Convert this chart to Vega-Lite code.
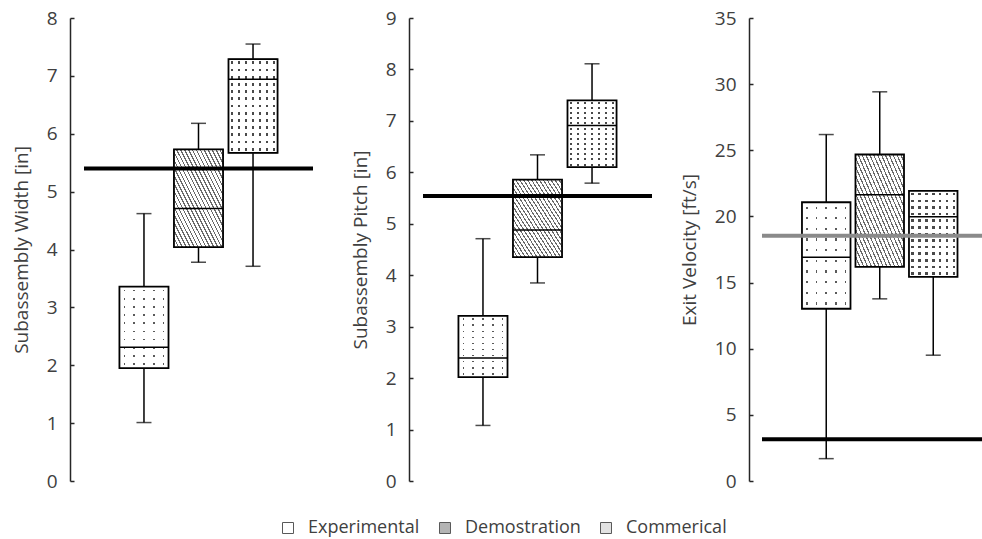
{
"$schema": "https://vega.github.io/schema/vega-lite/v6.json",
"padding": {"left": 12, "top": 9, "right": 0, "bottom": 0},
"background": "#ffffff",
"datasets": {
"boxes": [
{"panel":"W","cat":"Experimental","min":1.01,"q1":1.95,"med":2.31,"q3":3.36,"max":4.62},
{"panel":"W","cat":"Demostration","min":3.78,"q1":4.04,"med":4.71,"q3":5.73,"max":6.18},
{"panel":"W","cat":"Commerical","min":3.71,"q1":5.67,"med":6.94,"q3":7.29,"max":7.55},
{"panel":"P","cat":"Experimental","min":1.08,"q1":2.02,"med":2.39,"q3":3.21,"max":4.71},
{"panel":"P","cat":"Demostration","min":3.85,"q1":4.35,"med":4.88,"q3":5.86,"max":6.34},
{"panel":"P","cat":"Commerical","min":5.79,"q1":6.10,"med":6.91,"q3":7.40,"max":8.11},
{"panel":"V","cat":"Experimental","min":1.69,"q1":13.02,"med":16.91,"q3":21.07,"max":26.19},
{"panel":"V","cat":"Demostration","min":13.77,"q1":16.18,"med":21.63,"q3":24.68,"max":29.42},
{"panel":"V","cat":"Commerical","min":9.51,"q1":15.43,"med":19.97,"q3":21.93,"max":21.93}
],
"refs": [
{"panel":"W","kind":"limit","value":5.40},
{"panel":"P","kind":"limit","value":5.54},
{"panel":"V","kind":"avg","value":18.54},
{"panel":"V","kind":"limit","value":3.16}
]
},
"spacing": 110,
"bounds": "flush",
"hconcat": [
{
"width": 229, "height": 463,
"layer": [
{
"data": {"name": "boxes"},
"transform": [{"filter": "datum.panel === 'W'"}],
"encoding": {"x": {"field": "cat", "type": "nominal", "sort": ["Experimental","Demostration","Commerical"], "axis": null, "scale": {"paddingInner": 0.1, "paddingOuter": 0.65}}},
"layer": [
{"mark": {"type": "rule", "color": "#000000", "strokeWidth": 1.5},
 "encoding": {"y": {"field": "min", "type": "quantitative", "scale": {"domain": [0, 8], "nice": false}, "axis": {"title": "Subassembly Width [in]", "values": [0,1,2,3,4,5,6,7,8], "format": "d", "offset": 14}}, "y2": {"field": "max"}}},
{"mark": {"type": "tick", "color": "#000000", "size": 15, "thickness": 1.5}, "encoding": {"y": {"field": "min", "type": "quantitative"}}},
{"mark": {"type": "tick", "color": "#000000", "size": 15, "thickness": 1.5}, "encoding": {"y": {"field": "max", "type": "quantitative"}}},
{"mark": {"type": "bar", "strokeWidth": 1},
 "encoding": {"y": {"field": "q1", "type": "quantitative"}, "y2": {"field": "q3"},
  "fill": {"field": "cat", "type": "nominal", "scale": {"domain": ["Experimental","Demostration","Commerical"], "range": ["#ffffff","#b4b4b4","#e2e2e2"]},
   "legend": {"title": null, "orient": "none", "legendX": 195, "legendY": 501, "direction": "horizontal", "padding": 0,
    "symbolType": "square", "symbolSize": 121, "symbolStrokeWidth": 1,
    "labelFont": "Open Sans", "labelFontSize": 18, "labelColor": "#404040", "labelOffset": 11, "columnPadding": 16, "labelLimit": 300}},
  "stroke": {"field": "cat", "type": "nominal", "scale": {"domain": ["Experimental","Demostration","Commerical"], "range": ["#595959","#595959","#595959"]},
   "legend": {"title": null, "orient": "none", "legendX": 195, "legendY": 501, "direction": "horizontal", "padding": 0,
    "symbolType": "square", "symbolSize": 121, "symbolStrokeWidth": 1,
    "labelFont": "Open Sans", "labelFontSize": 18, "labelColor": "#404040", "labelOffset": 11, "columnPadding": 16, "labelLimit": 300}}}},
{"transform": [{"filter": "datum.cat === 'Demostration'"}],
 "mark": {"type": "bar", "fill": {"gradient":"linear","x1":0,"y1":1,"x2":1,"y2":0,"stops":[
{"offset":0,"color":"#6a6a6a"},{"offset":0.013,"color":"#6a6a6a"},{"offset":0.013,"color":"#ffffff"},{"offset":0.04,"color":"#ffffff"},
{"offset":0.04,"color":"#6a6a6a"},{"offset":0.053,"color":"#6a6a6a"},{"offset":0.053,"color":"#ffffff"},{"offset":0.08,"color":"#ffffff"},
{"offset":0.08,"color":"#6a6a6a"},{"offset":0.093,"color":"#6a6a6a"},{"offset":0.093,"color":"#ffffff"},{"offset":0.12,"color":"#ffffff"},
{"offset":0.12,"color":"#6a6a6a"},{"offset":0.133,"color":"#6a6a6a"},{"offset":0.133,"color":"#ffffff"},{"offset":0.16,"color":"#ffffff"},
{"offset":0.16,"color":"#6a6a6a"},{"offset":0.173,"color":"#6a6a6a"},{"offset":0.173,"color":"#ffffff"},{"offset":0.2,"color":"#ffffff"},
{"offset":0.2,"color":"#6a6a6a"},{"offset":0.213,"color":"#6a6a6a"},{"offset":0.213,"color":"#ffffff"},{"offset":0.24,"color":"#ffffff"},
{"offset":0.24,"color":"#6a6a6a"},{"offset":0.253,"color":"#6a6a6a"},{"offset":0.253,"color":"#ffffff"},{"offset":0.28,"color":"#ffffff"},
{"offset":0.28,"color":"#6a6a6a"},{"offset":0.293,"color":"#6a6a6a"},{"offset":0.293,"color":"#ffffff"},{"offset":0.32,"color":"#ffffff"},
{"offset":0.32,"color":"#6a6a6a"},{"offset":0.333,"color":"#6a6a6a"},{"offset":0.333,"color":"#ffffff"},{"offset":0.36,"color":"#ffffff"},
{"offset":0.36,"color":"#6a6a6a"},{"offset":0.373,"color":"#6a6a6a"},{"offset":0.373,"color":"#ffffff"},{"offset":0.4,"color":"#ffffff"},
{"offset":0.4,"color":"#6a6a6a"},{"offset":0.413,"color":"#6a6a6a"},{"offset":0.413,"color":"#ffffff"},{"offset":0.44,"color":"#ffffff"},
{"offset":0.44,"color":"#6a6a6a"},{"offset":0.453,"color":"#6a6a6a"},{"offset":0.453,"color":"#ffffff"},{"offset":0.48,"color":"#ffffff"},
{"offset":0.48,"color":"#6a6a6a"},{"offset":0.493,"color":"#6a6a6a"},{"offset":0.493,"color":"#ffffff"},{"offset":0.52,"color":"#ffffff"},
{"offset":0.52,"color":"#6a6a6a"},{"offset":0.533,"color":"#6a6a6a"},{"offset":0.533,"color":"#ffffff"},{"offset":0.56,"color":"#ffffff"},
{"offset":0.56,"color":"#6a6a6a"},{"offset":0.573,"color":"#6a6a6a"},{"offset":0.573,"color":"#ffffff"},{"offset":0.6,"color":"#ffffff"},
{"offset":0.6,"color":"#6a6a6a"},{"offset":0.613,"color":"#6a6a6a"},{"offset":0.613,"color":"#ffffff"},{"offset":0.64,"color":"#ffffff"},
{"offset":0.64,"color":"#6a6a6a"},{"offset":0.653,"color":"#6a6a6a"},{"offset":0.653,"color":"#ffffff"},{"offset":0.68,"color":"#ffffff"},
{"offset":0.68,"color":"#6a6a6a"},{"offset":0.693,"color":"#6a6a6a"},{"offset":0.693,"color":"#ffffff"},{"offset":0.72,"color":"#ffffff"},
{"offset":0.72,"color":"#6a6a6a"},{"offset":0.733,"color":"#6a6a6a"},{"offset":0.733,"color":"#ffffff"},{"offset":0.76,"color":"#ffffff"},
{"offset":0.76,"color":"#6a6a6a"},{"offset":0.773,"color":"#6a6a6a"},{"offset":0.773,"color":"#ffffff"},{"offset":0.8,"color":"#ffffff"},
{"offset":0.8,"color":"#6a6a6a"},{"offset":0.813,"color":"#6a6a6a"},{"offset":0.813,"color":"#ffffff"},{"offset":0.84,"color":"#ffffff"},
{"offset":0.84,"color":"#6a6a6a"},{"offset":0.853,"color":"#6a6a6a"},{"offset":0.853,"color":"#ffffff"},{"offset":0.88,"color":"#ffffff"},
{"offset":0.88,"color":"#6a6a6a"},{"offset":0.893,"color":"#6a6a6a"},{"offset":0.893,"color":"#ffffff"},{"offset":0.92,"color":"#ffffff"},
{"offset":0.92,"color":"#6a6a6a"},{"offset":0.933,"color":"#6a6a6a"},{"offset":0.933,"color":"#ffffff"},{"offset":0.96,"color":"#ffffff"},
{"offset":0.96,"color":"#6a6a6a"},{"offset":0.973,"color":"#6a6a6a"},{"offset":0.973,"color":"#ffffff"},{"offset":1,"color":"#ffffff"}]}},
 "encoding": {"y": {"field": "q1", "type": "quantitative"}, "y2": {"field": "q3"}}},
{"transform": [{"filter": "datum.cat === 'Experimental'"}],
 "mark": {"type": "bar", "fill": {"gradient":"linear","x1":0,"y1":0,"x2":0,"y2":1,"stops":[
{"offset":0,"color":"#ffffff"},
{"offset":0.04,"color":"#ffffff"},{"offset":0.04,"color":"#5a5a5a"},{"offset":0.06,"color":"#5a5a5a"},{"offset":0.06,"color":"#ffffff"},
{"offset":0.14,"color":"#ffffff"},{"offset":0.14,"color":"#5a5a5a"},{"offset":0.16,"color":"#5a5a5a"},{"offset":0.16,"color":"#ffffff"},
{"offset":0.24,"color":"#ffffff"},{"offset":0.24,"color":"#5a5a5a"},{"offset":0.26,"color":"#5a5a5a"},{"offset":0.26,"color":"#ffffff"},
{"offset":0.34,"color":"#ffffff"},{"offset":0.34,"color":"#5a5a5a"},{"offset":0.36,"color":"#5a5a5a"},{"offset":0.36,"color":"#ffffff"},
{"offset":0.44,"color":"#ffffff"},{"offset":0.44,"color":"#5a5a5a"},{"offset":0.46,"color":"#5a5a5a"},{"offset":0.46,"color":"#ffffff"},
{"offset":0.54,"color":"#ffffff"},{"offset":0.54,"color":"#5a5a5a"},{"offset":0.56,"color":"#5a5a5a"},{"offset":0.56,"color":"#ffffff"},
{"offset":0.64,"color":"#ffffff"},{"offset":0.64,"color":"#5a5a5a"},{"offset":0.66,"color":"#5a5a5a"},{"offset":0.66,"color":"#ffffff"},
{"offset":0.74,"color":"#ffffff"},{"offset":0.74,"color":"#5a5a5a"},{"offset":0.76,"color":"#5a5a5a"},{"offset":0.76,"color":"#ffffff"},
{"offset":0.84,"color":"#ffffff"},{"offset":0.84,"color":"#5a5a5a"},{"offset":0.86,"color":"#5a5a5a"},{"offset":0.86,"color":"#ffffff"},
{"offset":0.94,"color":"#ffffff"},{"offset":0.94,"color":"#5a5a5a"},{"offset":0.96,"color":"#5a5a5a"},{"offset":0.96,"color":"#ffffff"},
{"offset":1,"color":"#ffffff"}]}},
 "encoding": {"y": {"field": "q1", "type": "quantitative"}, "y2": {"field": "q3"}}},
{"transform": [{"filter": "datum.cat === 'Experimental'"}],
 "mark": {"type": "bar", "fill": {"gradient":"linear","x1":0,"y1":0,"x2":1,"y2":0,"stops":[
{"offset":0,"color":"#ffffff"},
{"offset":0.083,"color":"#ffffff"},{"offset":0.083,"color":"rgba(255,255,255,0)"},{"offset":0.117,"color":"rgba(255,255,255,0)"},{"offset":0.117,"color":"#ffffff"},
{"offset":0.283,"color":"#ffffff"},{"offset":0.283,"color":"rgba(255,255,255,0)"},{"offset":0.317,"color":"rgba(255,255,255,0)"},{"offset":0.317,"color":"#ffffff"},
{"offset":0.483,"color":"#ffffff"},{"offset":0.483,"color":"rgba(255,255,255,0)"},{"offset":0.517,"color":"rgba(255,255,255,0)"},{"offset":0.517,"color":"#ffffff"},
{"offset":0.683,"color":"#ffffff"},{"offset":0.683,"color":"rgba(255,255,255,0)"},{"offset":0.717,"color":"rgba(255,255,255,0)"},{"offset":0.717,"color":"#ffffff"},
{"offset":0.883,"color":"#ffffff"},{"offset":0.883,"color":"rgba(255,255,255,0)"},{"offset":0.917,"color":"rgba(255,255,255,0)"},{"offset":0.917,"color":"#ffffff"},
{"offset":1,"color":"#ffffff"}]}},
 "encoding": {"y": {"field": "q1", "type": "quantitative"}, "y2": {"field": "q3"}}},
{"transform": [{"filter": "datum.cat === 'Commerical'"}],
 "mark": {"type": "bar", "fill": {"gradient":"linear","x1":0,"y1":0,"x2":0,"y2":1,"stops":[
{"offset":0,"color":"#ffffff"},
{"offset":0.0235,"color":"#ffffff"},{"offset":0.0235,"color":"#4a4a4a"},{"offset":0.0535,"color":"#4a4a4a"},{"offset":0.0535,"color":"#ffffff"},
{"offset":0.1004,"color":"#ffffff"},{"offset":0.1004,"color":"#4a4a4a"},{"offset":0.1304,"color":"#4a4a4a"},{"offset":0.1304,"color":"#ffffff"},
{"offset":0.1773,"color":"#ffffff"},{"offset":0.1773,"color":"#4a4a4a"},{"offset":0.2073,"color":"#4a4a4a"},{"offset":0.2073,"color":"#ffffff"},
{"offset":0.2542,"color":"#ffffff"},{"offset":0.2542,"color":"#4a4a4a"},{"offset":0.2842,"color":"#4a4a4a"},{"offset":0.2842,"color":"#ffffff"},
{"offset":0.3312,"color":"#ffffff"},{"offset":0.3312,"color":"#4a4a4a"},{"offset":0.3612,"color":"#4a4a4a"},{"offset":0.3612,"color":"#ffffff"},
{"offset":0.4081,"color":"#ffffff"},{"offset":0.4081,"color":"#4a4a4a"},{"offset":0.4381,"color":"#4a4a4a"},{"offset":0.4381,"color":"#ffffff"},
{"offset":0.485,"color":"#ffffff"},{"offset":0.485,"color":"#4a4a4a"},{"offset":0.515,"color":"#4a4a4a"},{"offset":0.515,"color":"#ffffff"},
{"offset":0.5619,"color":"#ffffff"},{"offset":0.5619,"color":"#4a4a4a"},{"offset":0.5919,"color":"#4a4a4a"},{"offset":0.5919,"color":"#ffffff"},
{"offset":0.6388,"color":"#ffffff"},{"offset":0.6388,"color":"#4a4a4a"},{"offset":0.6688,"color":"#4a4a4a"},{"offset":0.6688,"color":"#ffffff"},
{"offset":0.7158,"color":"#ffffff"},{"offset":0.7158,"color":"#4a4a4a"},{"offset":0.7458,"color":"#4a4a4a"},{"offset":0.7458,"color":"#ffffff"},
{"offset":0.7927,"color":"#ffffff"},{"offset":0.7927,"color":"#4a4a4a"},{"offset":0.8227,"color":"#4a4a4a"},{"offset":0.8227,"color":"#ffffff"},
{"offset":0.8696,"color":"#ffffff"},{"offset":0.8696,"color":"#4a4a4a"},{"offset":0.8996,"color":"#4a4a4a"},{"offset":0.8996,"color":"#ffffff"},
{"offset":0.9465,"color":"#ffffff"},{"offset":0.9465,"color":"#4a4a4a"},{"offset":0.9765,"color":"#4a4a4a"},{"offset":0.9765,"color":"#ffffff"},
{"offset":1,"color":"#ffffff"}]}},
 "encoding": {"y": {"field": "q1", "type": "quantitative"}, "y2": {"field": "q3"}}},
{"transform": [{"filter": "datum.cat === 'Commerical'"}],
 "mark": {"type": "bar", "fill": {"gradient":"linear","x1":0,"y1":0,"x2":1,"y2":0,"stops":[
{"offset":0,"color":"#ffffff"},
{"offset":0.0444,"color":"#ffffff"},{"offset":0.0444,"color":"rgba(255,255,255,0)"},{"offset":0.0984,"color":"rgba(255,255,255,0)"},{"offset":0.0984,"color":"#ffffff"},
{"offset":0.1873,"color":"#ffffff"},{"offset":0.1873,"color":"rgba(255,255,255,0)"},{"offset":0.2413,"color":"rgba(255,255,255,0)"},{"offset":0.2413,"color":"#ffffff"},
{"offset":0.3301,"color":"#ffffff"},{"offset":0.3301,"color":"rgba(255,255,255,0)"},{"offset":0.3841,"color":"rgba(255,255,255,0)"},{"offset":0.3841,"color":"#ffffff"},
{"offset":0.473,"color":"#ffffff"},{"offset":0.473,"color":"rgba(255,255,255,0)"},{"offset":0.527,"color":"rgba(255,255,255,0)"},{"offset":0.527,"color":"#ffffff"},
{"offset":0.6159,"color":"#ffffff"},{"offset":0.6159,"color":"rgba(255,255,255,0)"},{"offset":0.6699,"color":"rgba(255,255,255,0)"},{"offset":0.6699,"color":"#ffffff"},
{"offset":0.7587,"color":"#ffffff"},{"offset":0.7587,"color":"rgba(255,255,255,0)"},{"offset":0.8127,"color":"rgba(255,255,255,0)"},{"offset":0.8127,"color":"#ffffff"},
{"offset":0.9016,"color":"#ffffff"},{"offset":0.9016,"color":"rgba(255,255,255,0)"},{"offset":0.9556,"color":"rgba(255,255,255,0)"},{"offset":0.9556,"color":"#ffffff"},
{"offset":1,"color":"#ffffff"}]}},
 "encoding": {"y": {"field": "q1", "type": "quantitative"}, "y2": {"field": "q3"}}},
{"mark": {"type": "bar", "fillOpacity": 0, "stroke": "#000000", "strokeWidth": 1.8},
 "encoding": {"y": {"field": "q1", "type": "quantitative"}, "y2": {"field": "q3"}}},
{"mark": {"type": "bar", "fillOpacity": 0, "stroke": "#000000", "strokeWidth": 1.5},
 "encoding": {"y": {"field": "med", "type": "quantitative"}, "y2": {"field": "med"}}}
]
},
{
"data": {"name": "refs"},
"transform": [{"filter": "datum.panel === 'W'"}],
"mark": {"type": "rule", "strokeWidth": 4},
"encoding": {"y": {"field": "value", "type": "quantitative"}, "color": {"condition": {"test": "datum.kind === 'avg'", "value": "#8a8a8a"}, "value": "#000000"}}
}
]
},
{
"width": 229, "height": 463,
"layer": [
{
"data": {"name": "boxes"},
"transform": [{"filter": "datum.panel === 'P'"}],
"encoding": {"x": {"field": "cat", "type": "nominal", "sort": ["Experimental","Demostration","Commerical"], "axis": null, "scale": {"paddingInner": 0.1, "paddingOuter": 0.65}}},
"layer": [
{"mark": {"type": "rule", "color": "#000000", "strokeWidth": 1.5},
 "encoding": {"y": {"field": "min", "type": "quantitative", "scale": {"domain": [0, 9], "nice": false}, "axis": {"title": "Subassembly Pitch [in]", "values": [0,1,2,3,4,5,6,7,8,9], "format": "d", "offset": 14}}, "y2": {"field": "max"}}},
{"mark": {"type": "tick", "color": "#000000", "size": 15, "thickness": 1.5}, "encoding": {"y": {"field": "min", "type": "quantitative"}}},
{"mark": {"type": "tick", "color": "#000000", "size": 15, "thickness": 1.5}, "encoding": {"y": {"field": "max", "type": "quantitative"}}},
{"transform": [{"filter": "datum.cat === 'Demostration'"}],
 "mark": {"type": "bar", "fill": {"gradient":"linear","x1":0,"y1":1,"x2":1,"y2":0,"stops":[
{"offset":0,"color":"#6a6a6a"},{"offset":0.013,"color":"#6a6a6a"},{"offset":0.013,"color":"#ffffff"},{"offset":0.04,"color":"#ffffff"},
{"offset":0.04,"color":"#6a6a6a"},{"offset":0.053,"color":"#6a6a6a"},{"offset":0.053,"color":"#ffffff"},{"offset":0.08,"color":"#ffffff"},
{"offset":0.08,"color":"#6a6a6a"},{"offset":0.093,"color":"#6a6a6a"},{"offset":0.093,"color":"#ffffff"},{"offset":0.12,"color":"#ffffff"},
{"offset":0.12,"color":"#6a6a6a"},{"offset":0.133,"color":"#6a6a6a"},{"offset":0.133,"color":"#ffffff"},{"offset":0.16,"color":"#ffffff"},
{"offset":0.16,"color":"#6a6a6a"},{"offset":0.173,"color":"#6a6a6a"},{"offset":0.173,"color":"#ffffff"},{"offset":0.2,"color":"#ffffff"},
{"offset":0.2,"color":"#6a6a6a"},{"offset":0.213,"color":"#6a6a6a"},{"offset":0.213,"color":"#ffffff"},{"offset":0.24,"color":"#ffffff"},
{"offset":0.24,"color":"#6a6a6a"},{"offset":0.253,"color":"#6a6a6a"},{"offset":0.253,"color":"#ffffff"},{"offset":0.28,"color":"#ffffff"},
{"offset":0.28,"color":"#6a6a6a"},{"offset":0.293,"color":"#6a6a6a"},{"offset":0.293,"color":"#ffffff"},{"offset":0.32,"color":"#ffffff"},
{"offset":0.32,"color":"#6a6a6a"},{"offset":0.333,"color":"#6a6a6a"},{"offset":0.333,"color":"#ffffff"},{"offset":0.36,"color":"#ffffff"},
{"offset":0.36,"color":"#6a6a6a"},{"offset":0.373,"color":"#6a6a6a"},{"offset":0.373,"color":"#ffffff"},{"offset":0.4,"color":"#ffffff"},
{"offset":0.4,"color":"#6a6a6a"},{"offset":0.413,"color":"#6a6a6a"},{"offset":0.413,"color":"#ffffff"},{"offset":0.44,"color":"#ffffff"},
{"offset":0.44,"color":"#6a6a6a"},{"offset":0.453,"color":"#6a6a6a"},{"offset":0.453,"color":"#ffffff"},{"offset":0.48,"color":"#ffffff"},
{"offset":0.48,"color":"#6a6a6a"},{"offset":0.493,"color":"#6a6a6a"},{"offset":0.493,"color":"#ffffff"},{"offset":0.52,"color":"#ffffff"},
{"offset":0.52,"color":"#6a6a6a"},{"offset":0.533,"color":"#6a6a6a"},{"offset":0.533,"color":"#ffffff"},{"offset":0.56,"color":"#ffffff"},
{"offset":0.56,"color":"#6a6a6a"},{"offset":0.573,"color":"#6a6a6a"},{"offset":0.573,"color":"#ffffff"},{"offset":0.6,"color":"#ffffff"},
{"offset":0.6,"color":"#6a6a6a"},{"offset":0.613,"color":"#6a6a6a"},{"offset":0.613,"color":"#ffffff"},{"offset":0.64,"color":"#ffffff"},
{"offset":0.64,"color":"#6a6a6a"},{"offset":0.653,"color":"#6a6a6a"},{"offset":0.653,"color":"#ffffff"},{"offset":0.68,"color":"#ffffff"},
{"offset":0.68,"color":"#6a6a6a"},{"offset":0.693,"color":"#6a6a6a"},{"offset":0.693,"color":"#ffffff"},{"offset":0.72,"color":"#ffffff"},
{"offset":0.72,"color":"#6a6a6a"},{"offset":0.733,"color":"#6a6a6a"},{"offset":0.733,"color":"#ffffff"},{"offset":0.76,"color":"#ffffff"},
{"offset":0.76,"color":"#6a6a6a"},{"offset":0.773,"color":"#6a6a6a"},{"offset":0.773,"color":"#ffffff"},{"offset":0.8,"color":"#ffffff"},
{"offset":0.8,"color":"#6a6a6a"},{"offset":0.813,"color":"#6a6a6a"},{"offset":0.813,"color":"#ffffff"},{"offset":0.84,"color":"#ffffff"},
{"offset":0.84,"color":"#6a6a6a"},{"offset":0.853,"color":"#6a6a6a"},{"offset":0.853,"color":"#ffffff"},{"offset":0.88,"color":"#ffffff"},
{"offset":0.88,"color":"#6a6a6a"},{"offset":0.893,"color":"#6a6a6a"},{"offset":0.893,"color":"#ffffff"},{"offset":0.92,"color":"#ffffff"},
{"offset":0.92,"color":"#6a6a6a"},{"offset":0.933,"color":"#6a6a6a"},{"offset":0.933,"color":"#ffffff"},{"offset":0.96,"color":"#ffffff"},
{"offset":0.96,"color":"#6a6a6a"},{"offset":0.973,"color":"#6a6a6a"},{"offset":0.973,"color":"#ffffff"},{"offset":1,"color":"#ffffff"}]}},
 "encoding": {"y": {"field": "q1", "type": "quantitative"}, "y2": {"field": "q3"}}},
{"transform": [{"filter": "datum.cat === 'Experimental'"}],
 "mark": {"type": "bar", "fill": {"gradient":"linear","x1":0,"y1":0,"x2":0,"y2":1,"stops":[
{"offset":0,"color":"#ffffff"},
{"offset":0.04,"color":"#ffffff"},{"offset":0.04,"color":"#5a5a5a"},{"offset":0.06,"color":"#5a5a5a"},{"offset":0.06,"color":"#ffffff"},
{"offset":0.14,"color":"#ffffff"},{"offset":0.14,"color":"#5a5a5a"},{"offset":0.16,"color":"#5a5a5a"},{"offset":0.16,"color":"#ffffff"},
{"offset":0.24,"color":"#ffffff"},{"offset":0.24,"color":"#5a5a5a"},{"offset":0.26,"color":"#5a5a5a"},{"offset":0.26,"color":"#ffffff"},
{"offset":0.34,"color":"#ffffff"},{"offset":0.34,"color":"#5a5a5a"},{"offset":0.36,"color":"#5a5a5a"},{"offset":0.36,"color":"#ffffff"},
{"offset":0.44,"color":"#ffffff"},{"offset":0.44,"color":"#5a5a5a"},{"offset":0.46,"color":"#5a5a5a"},{"offset":0.46,"color":"#ffffff"},
{"offset":0.54,"color":"#ffffff"},{"offset":0.54,"color":"#5a5a5a"},{"offset":0.56,"color":"#5a5a5a"},{"offset":0.56,"color":"#ffffff"},
{"offset":0.64,"color":"#ffffff"},{"offset":0.64,"color":"#5a5a5a"},{"offset":0.66,"color":"#5a5a5a"},{"offset":0.66,"color":"#ffffff"},
{"offset":0.74,"color":"#ffffff"},{"offset":0.74,"color":"#5a5a5a"},{"offset":0.76,"color":"#5a5a5a"},{"offset":0.76,"color":"#ffffff"},
{"offset":0.84,"color":"#ffffff"},{"offset":0.84,"color":"#5a5a5a"},{"offset":0.86,"color":"#5a5a5a"},{"offset":0.86,"color":"#ffffff"},
{"offset":0.94,"color":"#ffffff"},{"offset":0.94,"color":"#5a5a5a"},{"offset":0.96,"color":"#5a5a5a"},{"offset":0.96,"color":"#ffffff"},
{"offset":1,"color":"#ffffff"}]}},
 "encoding": {"y": {"field": "q1", "type": "quantitative"}, "y2": {"field": "q3"}}},
{"transform": [{"filter": "datum.cat === 'Experimental'"}],
 "mark": {"type": "bar", "fill": {"gradient":"linear","x1":0,"y1":0,"x2":1,"y2":0,"stops":[
{"offset":0,"color":"#ffffff"},
{"offset":0.083,"color":"#ffffff"},{"offset":0.083,"color":"rgba(255,255,255,0)"},{"offset":0.117,"color":"rgba(255,255,255,0)"},{"offset":0.117,"color":"#ffffff"},
{"offset":0.283,"color":"#ffffff"},{"offset":0.283,"color":"rgba(255,255,255,0)"},{"offset":0.317,"color":"rgba(255,255,255,0)"},{"offset":0.317,"color":"#ffffff"},
{"offset":0.483,"color":"#ffffff"},{"offset":0.483,"color":"rgba(255,255,255,0)"},{"offset":0.517,"color":"rgba(255,255,255,0)"},{"offset":0.517,"color":"#ffffff"},
{"offset":0.683,"color":"#ffffff"},{"offset":0.683,"color":"rgba(255,255,255,0)"},{"offset":0.717,"color":"rgba(255,255,255,0)"},{"offset":0.717,"color":"#ffffff"},
{"offset":0.883,"color":"#ffffff"},{"offset":0.883,"color":"rgba(255,255,255,0)"},{"offset":0.917,"color":"rgba(255,255,255,0)"},{"offset":0.917,"color":"#ffffff"},
{"offset":1,"color":"#ffffff"}]}},
 "encoding": {"y": {"field": "q1", "type": "quantitative"}, "y2": {"field": "q3"}}},
{"transform": [{"filter": "datum.cat === 'Commerical'"}],
 "mark": {"type": "bar", "fill": {"gradient":"linear","x1":0,"y1":0,"x2":0,"y2":1,"stops":[
{"offset":0,"color":"#ffffff"},
{"offset":0.0235,"color":"#ffffff"},{"offset":0.0235,"color":"#4a4a4a"},{"offset":0.0535,"color":"#4a4a4a"},{"offset":0.0535,"color":"#ffffff"},
{"offset":0.1004,"color":"#ffffff"},{"offset":0.1004,"color":"#4a4a4a"},{"offset":0.1304,"color":"#4a4a4a"},{"offset":0.1304,"color":"#ffffff"},
{"offset":0.1773,"color":"#ffffff"},{"offset":0.1773,"color":"#4a4a4a"},{"offset":0.2073,"color":"#4a4a4a"},{"offset":0.2073,"color":"#ffffff"},
{"offset":0.2542,"color":"#ffffff"},{"offset":0.2542,"color":"#4a4a4a"},{"offset":0.2842,"color":"#4a4a4a"},{"offset":0.2842,"color":"#ffffff"},
{"offset":0.3312,"color":"#ffffff"},{"offset":0.3312,"color":"#4a4a4a"},{"offset":0.3612,"color":"#4a4a4a"},{"offset":0.3612,"color":"#ffffff"},
{"offset":0.4081,"color":"#ffffff"},{"offset":0.4081,"color":"#4a4a4a"},{"offset":0.4381,"color":"#4a4a4a"},{"offset":0.4381,"color":"#ffffff"},
{"offset":0.485,"color":"#ffffff"},{"offset":0.485,"color":"#4a4a4a"},{"offset":0.515,"color":"#4a4a4a"},{"offset":0.515,"color":"#ffffff"},
{"offset":0.5619,"color":"#ffffff"},{"offset":0.5619,"color":"#4a4a4a"},{"offset":0.5919,"color":"#4a4a4a"},{"offset":0.5919,"color":"#ffffff"},
{"offset":0.6388,"color":"#ffffff"},{"offset":0.6388,"color":"#4a4a4a"},{"offset":0.6688,"color":"#4a4a4a"},{"offset":0.6688,"color":"#ffffff"},
{"offset":0.7158,"color":"#ffffff"},{"offset":0.7158,"color":"#4a4a4a"},{"offset":0.7458,"color":"#4a4a4a"},{"offset":0.7458,"color":"#ffffff"},
{"offset":0.7927,"color":"#ffffff"},{"offset":0.7927,"color":"#4a4a4a"},{"offset":0.8227,"color":"#4a4a4a"},{"offset":0.8227,"color":"#ffffff"},
{"offset":0.8696,"color":"#ffffff"},{"offset":0.8696,"color":"#4a4a4a"},{"offset":0.8996,"color":"#4a4a4a"},{"offset":0.8996,"color":"#ffffff"},
{"offset":0.9465,"color":"#ffffff"},{"offset":0.9465,"color":"#4a4a4a"},{"offset":0.9765,"color":"#4a4a4a"},{"offset":0.9765,"color":"#ffffff"},
{"offset":1,"color":"#ffffff"}]}},
 "encoding": {"y": {"field": "q1", "type": "quantitative"}, "y2": {"field": "q3"}}},
{"transform": [{"filter": "datum.cat === 'Commerical'"}],
 "mark": {"type": "bar", "fill": {"gradient":"linear","x1":0,"y1":0,"x2":1,"y2":0,"stops":[
{"offset":0,"color":"#ffffff"},
{"offset":0.0444,"color":"#ffffff"},{"offset":0.0444,"color":"rgba(255,255,255,0)"},{"offset":0.0984,"color":"rgba(255,255,255,0)"},{"offset":0.0984,"color":"#ffffff"},
{"offset":0.1873,"color":"#ffffff"},{"offset":0.1873,"color":"rgba(255,255,255,0)"},{"offset":0.2413,"color":"rgba(255,255,255,0)"},{"offset":0.2413,"color":"#ffffff"},
{"offset":0.3301,"color":"#ffffff"},{"offset":0.3301,"color":"rgba(255,255,255,0)"},{"offset":0.3841,"color":"rgba(255,255,255,0)"},{"offset":0.3841,"color":"#ffffff"},
{"offset":0.473,"color":"#ffffff"},{"offset":0.473,"color":"rgba(255,255,255,0)"},{"offset":0.527,"color":"rgba(255,255,255,0)"},{"offset":0.527,"color":"#ffffff"},
{"offset":0.6159,"color":"#ffffff"},{"offset":0.6159,"color":"rgba(255,255,255,0)"},{"offset":0.6699,"color":"rgba(255,255,255,0)"},{"offset":0.6699,"color":"#ffffff"},
{"offset":0.7587,"color":"#ffffff"},{"offset":0.7587,"color":"rgba(255,255,255,0)"},{"offset":0.8127,"color":"rgba(255,255,255,0)"},{"offset":0.8127,"color":"#ffffff"},
{"offset":0.9016,"color":"#ffffff"},{"offset":0.9016,"color":"rgba(255,255,255,0)"},{"offset":0.9556,"color":"rgba(255,255,255,0)"},{"offset":0.9556,"color":"#ffffff"},
{"offset":1,"color":"#ffffff"}]}},
 "encoding": {"y": {"field": "q1", "type": "quantitative"}, "y2": {"field": "q3"}}},
{"mark": {"type": "bar", "fillOpacity": 0, "stroke": "#000000", "strokeWidth": 1.8},
 "encoding": {"y": {"field": "q1", "type": "quantitative"}, "y2": {"field": "q3"}}},
{"mark": {"type": "bar", "fillOpacity": 0, "stroke": "#000000", "strokeWidth": 1.5},
 "encoding": {"y": {"field": "med", "type": "quantitative"}, "y2": {"field": "med"}}}
]
},
{
"data": {"name": "refs"},
"transform": [{"filter": "datum.panel === 'P'"}],
"mark": {"type": "rule", "strokeWidth": 4},
"encoding": {"y": {"field": "value", "type": "quantitative"}, "color": {"condition": {"test": "datum.kind === 'avg'", "value": "#8a8a8a"}, "value": "#000000"}}
}
]
},
{
"width": 220, "height": 463,
"layer": [
{
"data": {"name": "boxes"},
"transform": [{"filter": "datum.panel === 'V'"}],
"encoding": {"x": {"field": "cat", "type": "nominal", "sort": ["Experimental","Demostration","Commerical"], "axis": null, "scale": {"paddingInner": 0.093, "paddingOuter": 0.6025, "align": 0.62}}},
"layer": [
{"mark": {"type": "rule", "color": "#000000", "strokeWidth": 1.5},
 "encoding": {"y": {"field": "min", "type": "quantitative", "scale": {"domain": [0, 35], "nice": false}, "axis": {"title": "Exit Velocity [ft/s]", "values": [0,5,10,15,20,25,30,35], "format": "d", "offset": 13}}, "y2": {"field": "max"}}},
{"mark": {"type": "tick", "color": "#000000", "size": 15, "thickness": 1.5}, "encoding": {"y": {"field": "min", "type": "quantitative"}}},
{"mark": {"type": "tick", "color": "#000000", "size": 15, "thickness": 1.5}, "encoding": {"y": {"field": "max", "type": "quantitative"}}},
{"transform": [{"filter": "datum.cat === 'Demostration'"}],
 "mark": {"type": "bar", "fill": {"gradient":"linear","x1":0,"y1":1,"x2":1,"y2":0,"stops":[
{"offset":0,"color":"#6a6a6a"},{"offset":0.013,"color":"#6a6a6a"},{"offset":0.013,"color":"#ffffff"},{"offset":0.04,"color":"#ffffff"},
{"offset":0.04,"color":"#6a6a6a"},{"offset":0.053,"color":"#6a6a6a"},{"offset":0.053,"color":"#ffffff"},{"offset":0.08,"color":"#ffffff"},
{"offset":0.08,"color":"#6a6a6a"},{"offset":0.093,"color":"#6a6a6a"},{"offset":0.093,"color":"#ffffff"},{"offset":0.12,"color":"#ffffff"},
{"offset":0.12,"color":"#6a6a6a"},{"offset":0.133,"color":"#6a6a6a"},{"offset":0.133,"color":"#ffffff"},{"offset":0.16,"color":"#ffffff"},
{"offset":0.16,"color":"#6a6a6a"},{"offset":0.173,"color":"#6a6a6a"},{"offset":0.173,"color":"#ffffff"},{"offset":0.2,"color":"#ffffff"},
{"offset":0.2,"color":"#6a6a6a"},{"offset":0.213,"color":"#6a6a6a"},{"offset":0.213,"color":"#ffffff"},{"offset":0.24,"color":"#ffffff"},
{"offset":0.24,"color":"#6a6a6a"},{"offset":0.253,"color":"#6a6a6a"},{"offset":0.253,"color":"#ffffff"},{"offset":0.28,"color":"#ffffff"},
{"offset":0.28,"color":"#6a6a6a"},{"offset":0.293,"color":"#6a6a6a"},{"offset":0.293,"color":"#ffffff"},{"offset":0.32,"color":"#ffffff"},
{"offset":0.32,"color":"#6a6a6a"},{"offset":0.333,"color":"#6a6a6a"},{"offset":0.333,"color":"#ffffff"},{"offset":0.36,"color":"#ffffff"},
{"offset":0.36,"color":"#6a6a6a"},{"offset":0.373,"color":"#6a6a6a"},{"offset":0.373,"color":"#ffffff"},{"offset":0.4,"color":"#ffffff"},
{"offset":0.4,"color":"#6a6a6a"},{"offset":0.413,"color":"#6a6a6a"},{"offset":0.413,"color":"#ffffff"},{"offset":0.44,"color":"#ffffff"},
{"offset":0.44,"color":"#6a6a6a"},{"offset":0.453,"color":"#6a6a6a"},{"offset":0.453,"color":"#ffffff"},{"offset":0.48,"color":"#ffffff"},
{"offset":0.48,"color":"#6a6a6a"},{"offset":0.493,"color":"#6a6a6a"},{"offset":0.493,"color":"#ffffff"},{"offset":0.52,"color":"#ffffff"},
{"offset":0.52,"color":"#6a6a6a"},{"offset":0.533,"color":"#6a6a6a"},{"offset":0.533,"color":"#ffffff"},{"offset":0.56,"color":"#ffffff"},
{"offset":0.56,"color":"#6a6a6a"},{"offset":0.573,"color":"#6a6a6a"},{"offset":0.573,"color":"#ffffff"},{"offset":0.6,"color":"#ffffff"},
{"offset":0.6,"color":"#6a6a6a"},{"offset":0.613,"color":"#6a6a6a"},{"offset":0.613,"color":"#ffffff"},{"offset":0.64,"color":"#ffffff"},
{"offset":0.64,"color":"#6a6a6a"},{"offset":0.653,"color":"#6a6a6a"},{"offset":0.653,"color":"#ffffff"},{"offset":0.68,"color":"#ffffff"},
{"offset":0.68,"color":"#6a6a6a"},{"offset":0.693,"color":"#6a6a6a"},{"offset":0.693,"color":"#ffffff"},{"offset":0.72,"color":"#ffffff"},
{"offset":0.72,"color":"#6a6a6a"},{"offset":0.733,"color":"#6a6a6a"},{"offset":0.733,"color":"#ffffff"},{"offset":0.76,"color":"#ffffff"},
{"offset":0.76,"color":"#6a6a6a"},{"offset":0.773,"color":"#6a6a6a"},{"offset":0.773,"color":"#ffffff"},{"offset":0.8,"color":"#ffffff"},
{"offset":0.8,"color":"#6a6a6a"},{"offset":0.813,"color":"#6a6a6a"},{"offset":0.813,"color":"#ffffff"},{"offset":0.84,"color":"#ffffff"},
{"offset":0.84,"color":"#6a6a6a"},{"offset":0.853,"color":"#6a6a6a"},{"offset":0.853,"color":"#ffffff"},{"offset":0.88,"color":"#ffffff"},
{"offset":0.88,"color":"#6a6a6a"},{"offset":0.893,"color":"#6a6a6a"},{"offset":0.893,"color":"#ffffff"},{"offset":0.92,"color":"#ffffff"},
{"offset":0.92,"color":"#6a6a6a"},{"offset":0.933,"color":"#6a6a6a"},{"offset":0.933,"color":"#ffffff"},{"offset":0.96,"color":"#ffffff"},
{"offset":0.96,"color":"#6a6a6a"},{"offset":0.973,"color":"#6a6a6a"},{"offset":0.973,"color":"#ffffff"},{"offset":1,"color":"#ffffff"}]}},
 "encoding": {"y": {"field": "q1", "type": "quantitative"}, "y2": {"field": "q3"}}},
{"transform": [{"filter": "datum.cat === 'Experimental'"}],
 "mark": {"type": "bar", "fill": {"gradient":"linear","x1":0,"y1":0,"x2":0,"y2":1,"stops":[
{"offset":0,"color":"#ffffff"},
{"offset":0.04,"color":"#ffffff"},{"offset":0.04,"color":"#5a5a5a"},{"offset":0.06,"color":"#5a5a5a"},{"offset":0.06,"color":"#ffffff"},
{"offset":0.14,"color":"#ffffff"},{"offset":0.14,"color":"#5a5a5a"},{"offset":0.16,"color":"#5a5a5a"},{"offset":0.16,"color":"#ffffff"},
{"offset":0.24,"color":"#ffffff"},{"offset":0.24,"color":"#5a5a5a"},{"offset":0.26,"color":"#5a5a5a"},{"offset":0.26,"color":"#ffffff"},
{"offset":0.34,"color":"#ffffff"},{"offset":0.34,"color":"#5a5a5a"},{"offset":0.36,"color":"#5a5a5a"},{"offset":0.36,"color":"#ffffff"},
{"offset":0.44,"color":"#ffffff"},{"offset":0.44,"color":"#5a5a5a"},{"offset":0.46,"color":"#5a5a5a"},{"offset":0.46,"color":"#ffffff"},
{"offset":0.54,"color":"#ffffff"},{"offset":0.54,"color":"#5a5a5a"},{"offset":0.56,"color":"#5a5a5a"},{"offset":0.56,"color":"#ffffff"},
{"offset":0.64,"color":"#ffffff"},{"offset":0.64,"color":"#5a5a5a"},{"offset":0.66,"color":"#5a5a5a"},{"offset":0.66,"color":"#ffffff"},
{"offset":0.74,"color":"#ffffff"},{"offset":0.74,"color":"#5a5a5a"},{"offset":0.76,"color":"#5a5a5a"},{"offset":0.76,"color":"#ffffff"},
{"offset":0.84,"color":"#ffffff"},{"offset":0.84,"color":"#5a5a5a"},{"offset":0.86,"color":"#5a5a5a"},{"offset":0.86,"color":"#ffffff"},
{"offset":0.94,"color":"#ffffff"},{"offset":0.94,"color":"#5a5a5a"},{"offset":0.96,"color":"#5a5a5a"},{"offset":0.96,"color":"#ffffff"},
{"offset":1,"color":"#ffffff"}]}},
 "encoding": {"y": {"field": "q1", "type": "quantitative"}, "y2": {"field": "q3"}}},
{"transform": [{"filter": "datum.cat === 'Experimental'"}],
 "mark": {"type": "bar", "fill": {"gradient":"linear","x1":0,"y1":0,"x2":1,"y2":0,"stops":[
{"offset":0,"color":"#ffffff"},
{"offset":0.083,"color":"#ffffff"},{"offset":0.083,"color":"rgba(255,255,255,0)"},{"offset":0.117,"color":"rgba(255,255,255,0)"},{"offset":0.117,"color":"#ffffff"},
{"offset":0.283,"color":"#ffffff"},{"offset":0.283,"color":"rgba(255,255,255,0)"},{"offset":0.317,"color":"rgba(255,255,255,0)"},{"offset":0.317,"color":"#ffffff"},
{"offset":0.483,"color":"#ffffff"},{"offset":0.483,"color":"rgba(255,255,255,0)"},{"offset":0.517,"color":"rgba(255,255,255,0)"},{"offset":0.517,"color":"#ffffff"},
{"offset":0.683,"color":"#ffffff"},{"offset":0.683,"color":"rgba(255,255,255,0)"},{"offset":0.717,"color":"rgba(255,255,255,0)"},{"offset":0.717,"color":"#ffffff"},
{"offset":0.883,"color":"#ffffff"},{"offset":0.883,"color":"rgba(255,255,255,0)"},{"offset":0.917,"color":"rgba(255,255,255,0)"},{"offset":0.917,"color":"#ffffff"},
{"offset":1,"color":"#ffffff"}]}},
 "encoding": {"y": {"field": "q1", "type": "quantitative"}, "y2": {"field": "q3"}}},
{"transform": [{"filter": "datum.cat === 'Commerical'"}],
 "mark": {"type": "bar", "fill": {"gradient":"linear","x1":0,"y1":0,"x2":0,"y2":1,"stops":[
{"offset":0,"color":"#ffffff"},
{"offset":0.0235,"color":"#ffffff"},{"offset":0.0235,"color":"#4a4a4a"},{"offset":0.0535,"color":"#4a4a4a"},{"offset":0.0535,"color":"#ffffff"},
{"offset":0.1004,"color":"#ffffff"},{"offset":0.1004,"color":"#4a4a4a"},{"offset":0.1304,"color":"#4a4a4a"},{"offset":0.1304,"color":"#ffffff"},
{"offset":0.1773,"color":"#ffffff"},{"offset":0.1773,"color":"#4a4a4a"},{"offset":0.2073,"color":"#4a4a4a"},{"offset":0.2073,"color":"#ffffff"},
{"offset":0.2542,"color":"#ffffff"},{"offset":0.2542,"color":"#4a4a4a"},{"offset":0.2842,"color":"#4a4a4a"},{"offset":0.2842,"color":"#ffffff"},
{"offset":0.3312,"color":"#ffffff"},{"offset":0.3312,"color":"#4a4a4a"},{"offset":0.3612,"color":"#4a4a4a"},{"offset":0.3612,"color":"#ffffff"},
{"offset":0.4081,"color":"#ffffff"},{"offset":0.4081,"color":"#4a4a4a"},{"offset":0.4381,"color":"#4a4a4a"},{"offset":0.4381,"color":"#ffffff"},
{"offset":0.485,"color":"#ffffff"},{"offset":0.485,"color":"#4a4a4a"},{"offset":0.515,"color":"#4a4a4a"},{"offset":0.515,"color":"#ffffff"},
{"offset":0.5619,"color":"#ffffff"},{"offset":0.5619,"color":"#4a4a4a"},{"offset":0.5919,"color":"#4a4a4a"},{"offset":0.5919,"color":"#ffffff"},
{"offset":0.6388,"color":"#ffffff"},{"offset":0.6388,"color":"#4a4a4a"},{"offset":0.6688,"color":"#4a4a4a"},{"offset":0.6688,"color":"#ffffff"},
{"offset":0.7158,"color":"#ffffff"},{"offset":0.7158,"color":"#4a4a4a"},{"offset":0.7458,"color":"#4a4a4a"},{"offset":0.7458,"color":"#ffffff"},
{"offset":0.7927,"color":"#ffffff"},{"offset":0.7927,"color":"#4a4a4a"},{"offset":0.8227,"color":"#4a4a4a"},{"offset":0.8227,"color":"#ffffff"},
{"offset":0.8696,"color":"#ffffff"},{"offset":0.8696,"color":"#4a4a4a"},{"offset":0.8996,"color":"#4a4a4a"},{"offset":0.8996,"color":"#ffffff"},
{"offset":0.9465,"color":"#ffffff"},{"offset":0.9465,"color":"#4a4a4a"},{"offset":0.9765,"color":"#4a4a4a"},{"offset":0.9765,"color":"#ffffff"},
{"offset":1,"color":"#ffffff"}]}},
 "encoding": {"y": {"field": "q1", "type": "quantitative"}, "y2": {"field": "q3"}}},
{"transform": [{"filter": "datum.cat === 'Commerical'"}],
 "mark": {"type": "bar", "fill": {"gradient":"linear","x1":0,"y1":0,"x2":1,"y2":0,"stops":[
{"offset":0,"color":"#ffffff"},
{"offset":0.0444,"color":"#ffffff"},{"offset":0.0444,"color":"rgba(255,255,255,0)"},{"offset":0.0984,"color":"rgba(255,255,255,0)"},{"offset":0.0984,"color":"#ffffff"},
{"offset":0.1873,"color":"#ffffff"},{"offset":0.1873,"color":"rgba(255,255,255,0)"},{"offset":0.2413,"color":"rgba(255,255,255,0)"},{"offset":0.2413,"color":"#ffffff"},
{"offset":0.3301,"color":"#ffffff"},{"offset":0.3301,"color":"rgba(255,255,255,0)"},{"offset":0.3841,"color":"rgba(255,255,255,0)"},{"offset":0.3841,"color":"#ffffff"},
{"offset":0.473,"color":"#ffffff"},{"offset":0.473,"color":"rgba(255,255,255,0)"},{"offset":0.527,"color":"rgba(255,255,255,0)"},{"offset":0.527,"color":"#ffffff"},
{"offset":0.6159,"color":"#ffffff"},{"offset":0.6159,"color":"rgba(255,255,255,0)"},{"offset":0.6699,"color":"rgba(255,255,255,0)"},{"offset":0.6699,"color":"#ffffff"},
{"offset":0.7587,"color":"#ffffff"},{"offset":0.7587,"color":"rgba(255,255,255,0)"},{"offset":0.8127,"color":"rgba(255,255,255,0)"},{"offset":0.8127,"color":"#ffffff"},
{"offset":0.9016,"color":"#ffffff"},{"offset":0.9016,"color":"rgba(255,255,255,0)"},{"offset":0.9556,"color":"rgba(255,255,255,0)"},{"offset":0.9556,"color":"#ffffff"},
{"offset":1,"color":"#ffffff"}]}},
 "encoding": {"y": {"field": "q1", "type": "quantitative"}, "y2": {"field": "q3"}}},
{"mark": {"type": "bar", "fillOpacity": 0, "stroke": "#000000", "strokeWidth": 1.8},
 "encoding": {"y": {"field": "q1", "type": "quantitative"}, "y2": {"field": "q3"}}},
{"mark": {"type": "bar", "fillOpacity": 0, "stroke": "#000000", "strokeWidth": 1.5},
 "encoding": {"y": {"field": "med", "type": "quantitative"}, "y2": {"field": "med"}}}
]
},
{
"data": {"name": "refs"},
"transform": [{"filter": "datum.panel === 'V'"}],
"mark": {"type": "rule", "strokeWidth": 4},
"encoding": {"y": {"field": "value", "type": "quantitative"}, "color": {"condition": {"test": "datum.kind === 'avg'", "value": "#8a8a8a"}, "value": "#000000"}}
}
]
}
],
"config": {
"view": {"stroke": null},
"font": "Open Sans",
"axis": {"grid": false, "domainColor": "#262626", "domainWidth": 1.5, "tickColor": "#262626", "tickWidth": 1.5, "tickSize": -4,
 "labelFont": "Open Sans", "labelFontSize": 19, "labelColor": "#404040", "labelPadding": 17, "labelFlush": false,
 "titleFont": "Open Sans", "titleFontSize": 19, "titleFontWeight": "normal", "titleColor": "#404040", "titlePadding": 15}
}
}
